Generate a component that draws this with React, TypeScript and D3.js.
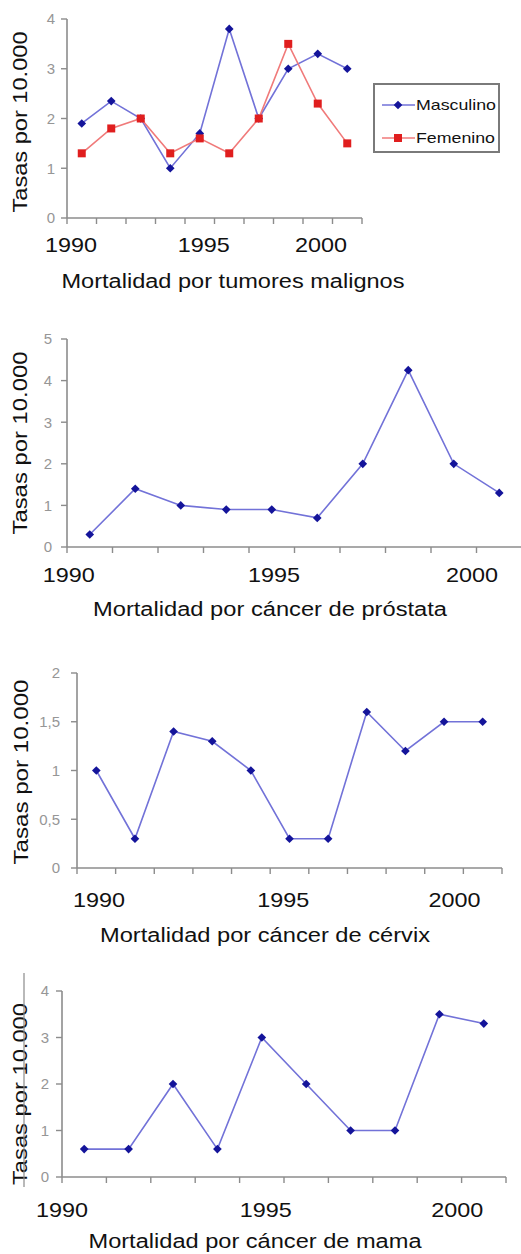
import React from 'react';
import * as d3 from 'd3';

// categories (one per plotted point)
const yearsTen = ['1991', '1992', '1993', '1994', '1995', '1996', '1997', '1998', '1999', '2000'];
const yearsEleven = ['1990', '1991', '1992', '1993', '1994', '1995', '1996', '1997', '1998', '1999', '2000'];

// series values, tasas por 10.000
const tumorMale = [1.9, 2.35, 2.0, 1.0, 1.7, 3.8, 2.0, 3.0, 3.3, 3.0];
const tumorFemale = [1.3, 1.8, 2.0, 1.3, 1.6, 1.3, 2.0, 3.5, 2.3, 1.5];
const prostateRate = [0.3, 1.4, 1.0, 0.9, 0.9, 0.7, 2.0, 4.25, 2.0, 1.3];
const cervixRate = [1.0, 0.3, 1.4, 1.3, 1.0, 0.3, 0.3, 1.6, 1.2, 1.5, 1.5];
const breastRate = [0.6, 0.6, 2.0, 0.6, 3.0, 2.0, 1.0, 1.0, 3.5, 3.3];

// tick labels
const yearLabels = ['1990', '1995', '2000'];
const ticksTumor = [0, 1, 2, 3, 4];
const ticksProstate = [0, 1, 2, 3, 4, 5];
const ticksCervix = [0, 0.5, 1, 1.5, 2];
const ticksBreast = [0, 1, 2, 3, 4];

const titles = [
  'Mortalidad por tumores malignos',
  'Mortalidad por cáncer de próstata',
  'Mortalidad por cáncer de cérvix',
  'Mortalidad por cáncer de mama',
];
const yTitle = 'Tasas por 10.000';
const seriesNames = ['Masculino', 'Femenino'];

const FONT = "Arial, 'Liberation Sans', sans-serif";
const BLUE_LINE = '#7272d8';
const BLUE_DOT = '#14149a';
const RED_LINE = '#f07a7a';
const RED_DOT = '#e01e1e';
const AXIS = '#8c8c8c';

const fmt = (d: number) => String(d).replace('.', ',');

const diamond = d3.symbol().type(d3.symbolDiamond2).size(48)() as string;
const square = d3.symbol().type(d3.symbolSquare).size(64)() as string;

type Series = { name: string; values: number[]; line: string; dot: string; marker: string };

type PanelSpec = {
  categories: string[];
  series: Series[];
  ticks: number[];
  left: number;
  right: number;
  top: number;
  bottom: number;
  tickGap: number;
  labelAt: number[];
  labelBase: number;
  title: string;
  titleX: number;
  titleBase: number;
  titleLen: number;
  yTitleX: number;
  yTitleY: number;
  yTitleLen: number;
};

const blue = (values: number[]): Series => ({ name: seriesNames[0], values, line: BLUE_LINE, dot: BLUE_DOT, marker: diamond });

const panels: PanelSpec[] = [
  {
    categories: yearsTen,
    series: [blue(tumorMale), { name: seriesNames[1], values: tumorFemale, line: RED_LINE, dot: RED_DOT, marker: square }],
    ticks: ticksTumor, left: 67, right: 362, top: 19, bottom: 218, tickGap: 12,
    labelAt: [0.14, 4.64, 8.61], labelBase: 252,
    title: titles[0], titleX: 233, titleBase: 288, titleLen: 343,
    yTitleX: 27, yTitleY: 122, yTitleLen: 181,
  },
  {
    categories: yearsTen,
    series: [blue(prostateRate)],
    ticks: ticksProstate, left: 67, right: 522, top: 339, bottom: 547, tickGap: 15,
    labelAt: [0.04, 4.55, 8.9], labelBase: 582,
    title: titles[1], titleX: 270, titleBase: 616, titleLen: 354,
    yTitleX: 27, yTitleY: 443, yTitleLen: 183,
  },
  {
    categories: yearsEleven,
    series: [blue(cervixRate)],
    ticks: ticksCervix, left: 77, right: 502, top: 673, bottom: 868, tickGap: 17,
    labelAt: [0.57, 5.34, 9.77], labelBase: 907,
    title: titles[2], titleX: 265, titleBase: 942, titleLen: 330,
    yTitleX: 28, yTitleY: 772, yTitleLen: 185,
  },
  {
    categories: yearsTen,
    series: [blue(breastRate)],
    ticks: ticksBreast, left: 62, right: 506, top: 991, bottom: 1177, tickGap: 13,
    labelAt: [0, 4.59, 8.9], labelBase: 1217,
    title: titles[3], titleX: 255, titleBase: 1248, titleLen: 333,
    yTitleX: 27, yTitleY: 1094, yTitleLen: 182,
  },
];

function Panel({ p }: { p: PanelSpec }) {
  const n = p.categories.length;
  const x = d3.scaleLinear().domain([0, n]).range([p.left, p.right]);
  const y = d3.scaleLinear().domain([0, d3.max(p.ticks) as number]).range([p.bottom, p.top]);
  const line = d3.line<number>().x((_, i) => x(i + 0.5)).y(d => y(d));

  return (
    <g>
      {/* y axis */}
      <line x1={x(0)} x2={x(0)} y1={y.range()[1]} y2={y.range()[0]} stroke={AXIS} strokeWidth={1.6} />
      {p.ticks.map(t => (
        <g key={t}>
          <line x1={x(0) - 6} x2={x(0)} y1={y(t)} y2={y(t)} stroke={AXIS} strokeWidth={1.4} />
          <text x={x(0) - p.tickGap} y={y(t)} dy="0.36em" textAnchor="end" fontSize={15} fill="#969696" fontFamily={FONT}>
            {fmt(t)}
          </text>
        </g>
      ))}
      {/* x axis */}
      <line x1={x(0)} x2={x(n)} y1={y(0)} y2={y(0)} stroke={AXIS} strokeWidth={1.6} />
      {d3.range(n + 1).map(i => (
        <line key={i} x1={x(i)} x2={x(i)} y1={y(0)} y2={y(0) + 6} stroke={AXIS} strokeWidth={1.4} />
      ))}
      {yearLabels.map((l, i) => (
        <text key={l} x={x(p.labelAt[i])} y={p.labelBase} textAnchor="middle" fontSize={21} fontFamily={FONT}
          fill="#111" textLength={52} lengthAdjust="spacingAndGlyphs">
          {l}
        </text>
      ))}
      {p.series.map(s => (
        <g key={s.name}>
          <path d={line(s.values) as string} fill="none" stroke={s.line} strokeWidth={1.6} />
          {s.values.map((v, i) => (
            <path key={i} d={s.marker} transform={`translate(${x(i + 0.5)},${y(v)})`} fill={s.dot} />
          ))}
        </g>
      ))}
      <text x={p.titleX} y={p.titleBase} textAnchor="middle" fontSize={20} fontFamily={FONT} fill="#111"
        textLength={p.titleLen} lengthAdjust="spacingAndGlyphs">
        {p.title}
      </text>
      <text transform={`translate(${p.yTitleX},${p.yTitleY}) rotate(-90)`} textAnchor="middle" fontSize={21}
        fontFamily={FONT} fill="#111" textLength={p.yTitleLen} lengthAdjust="spacingAndGlyphs">
        {yTitle}
      </text>
    </g>
  );
}

function Legend({ series }: { series: Series[] }) {
  const rowY = d3.scalePoint<string>().domain(series.map(s => s.name)).range([105, 138]);
  return (
    <g>
      <rect x={374} y={84} width={125} height={68} fill="#fff" stroke="#7a7a7a" strokeWidth={2} />
      {series.map(s => (
        <g key={s.name}>
          <line x1={382} x2={415} y1={rowY(s.name)} y2={rowY(s.name)} stroke={s.line} strokeWidth={1.6} />
          <path d={s.marker} transform={`translate(398,${rowY(s.name)})`} fill={s.dot} />
          <text x={416} y={rowY(s.name)} dy="0.36em" fontSize={15} fontFamily={FONT} fill="#111"
            textLength={s.name === 'Masculino' ? 80 : 79} lengthAdjust="spacingAndGlyphs">
            {s.name}
          </text>
        </g>
      ))}
    </g>
  );
}

export default function App() {
  return (
    <svg width={521} height={1254} style={{ position: 'absolute', left: 0, top: 0, background: '#fff' }}>
      <rect width={521} height={1254} fill="#fff" />
      {panels.map((p, i) => <Panel key={i} p={p} />)}
      <Legend series={panels[0].series} />
      {/* stray scan border left of the last panel */}
      <line x1={24} x2={24} y1={973} y2={1187} stroke="#8a8a8a" strokeWidth={1.2} />
    </svg>
  );
}
